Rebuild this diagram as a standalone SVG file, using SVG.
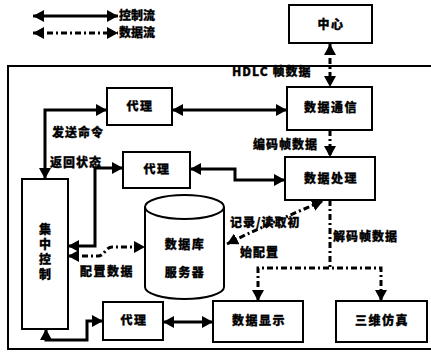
<svg xmlns="http://www.w3.org/2000/svg" width="431" height="353" viewBox="0 0 431 353">
<style>
text{font-family:"Noto Sans CJK SC","Noto Sans CJK JP",sans-serif;font-weight:900;font-size:12px;fill:#000;stroke:#000;stroke-width:0.3}
.lbl{letter-spacing:1px}
.box{fill:#fff;stroke:#000;stroke-width:2}
.c{fill:none;stroke:#000;stroke-width:3}
.d{fill:none;stroke:#000;stroke-width:3;stroke-dasharray:6 3 2 3}
.m{text-anchor:middle;letter-spacing:1.5px}
.v{writing-mode:vertical-rl;text-anchor:middle;letter-spacing:3px}
</style>
<defs>
<marker id="ah" viewBox="0 0 10 10" refX="10" refY="5" markerWidth="11" markerHeight="12" markerUnits="userSpaceOnUse" orient="auto-start-reverse" preserveAspectRatio="none">
<path d="M0,0 L10,5 L0,10 z" fill="#000"/>
</marker>
</defs>
<rect x="8" y="66" width="430" height="283" fill="none" stroke="#000" stroke-width="2"/>
<g id="legend">
<line x1="33" y1="16" x2="118" y2="16" class="c" marker-start="url(#ah)" marker-end="url(#ah)"/>
<text x="119" y="20">控制流</text>
<line x1="33" y1="33" x2="118" y2="33" class="d" marker-start="url(#ah)" marker-end="url(#ah)"/>
<text x="119" y="37">数据流</text>
</g>
<g id="connectors">
<path d="M330,44 V87" class="d" marker-start="url(#ah)" marker-end="url(#ah)"/>
<path d="M172,110 H287" class="c" marker-start="url(#ah)" marker-end="url(#ah)"/>
<path d="M330,130 V157" class="d" marker-end="url(#ah)"/>
<path d="M190,169 H235 V180 H285" class="c" marker-start="url(#ah)" marker-end="url(#ah)"/>
<path d="M45,179 V110 H107" class="c" marker-start="url(#ah)" marker-end="url(#ah)"/>
<path d="M68,246 H95 V168 H123" class="c" marker-start="url(#ah)" marker-end="url(#ah)"/>
<path d="M68,256 H98 C104,256 106,247 112,247 H145" class="d" marker-start="url(#ah)" marker-end="url(#ah)"/>
<path d="M227,244 C250,232 290,215 323,201" class="d" marker-start="url(#ah)" marker-end="url(#ah)"/>
<path d="M330,200 V268" class="d"/>
<path d="M258,301 V268 H381 V301" class="d" marker-start="url(#ah)" marker-end="url(#ah)"/>
<path d="M163,322 H213" class="c" marker-start="url(#ah)" marker-end="url(#ah)"/>
<path d="M46,329 V340 H87 V321 H103" class="c" marker-start="url(#ah)" marker-end="url(#ah)"/>
<text x="232" y="76" class="lbl">HDLC 帧数据</text>
<text x="253" y="149" class="lbl">编码帧数据</text>
<text x="52" y="137" class="lbl">发送命令</text>
<text x="50" y="167" class="lbl">返回状态</text>
<text x="230" y="227" class="lbl">记录/读取初</text>
<text x="240" y="257" class="lbl">始配置</text>
<text x="333" y="241" class="lbl">解码帧数据</text>
<text x="107" y="276" class="m">配置数据</text>
</g>
<g id="center"><rect x="289" y="5" width="83" height="38" class="box"/><text x="331" y="29" class="m">中心</text></g>
<g id="comm"><rect x="287" y="87" width="85" height="43" class="box"/><text x="331" y="112" class="m">数据通信</text></g>
<g id="proc"><rect x="285" y="157" width="90" height="43" class="box"/><text x="331" y="183" class="m">数据处理</text></g>
<g id="agent1"><rect x="107" y="88" width="65" height="37" class="box"/><text x="140" y="111" class="m">代理</text></g>
<g id="agent2"><rect x="123" y="152" width="67" height="36" class="box"/><text x="157" y="174" class="m">代理</text></g>
<g id="agent3"><rect x="103" y="302" width="60" height="38" class="box"/><text x="134" y="325" class="m">代理</text></g>
<g id="ctrl"><rect x="22" y="179" width="46" height="150" class="box"/>
<text x="45" y="253" class="v">集中控制</text></g>
<g id="db"><path d="M145,207 V287 A39.5,12 0 0 0 224,287 V207" class="box"/><ellipse cx="184.5" cy="207" rx="39.5" ry="12" class="box"/>
<text x="185" y="249" class="m">数据库</text><text x="185" y="277" class="m">服务器</text></g>
<g id="display"><rect x="213" y="301" width="90" height="41" class="box"/><text x="259" y="325" class="m">数据显示</text></g>
<g id="sim"><rect x="336" y="301" width="91" height="41" class="box"/><text x="382" y="325" class="m">三维仿真</text></g>
</svg>
